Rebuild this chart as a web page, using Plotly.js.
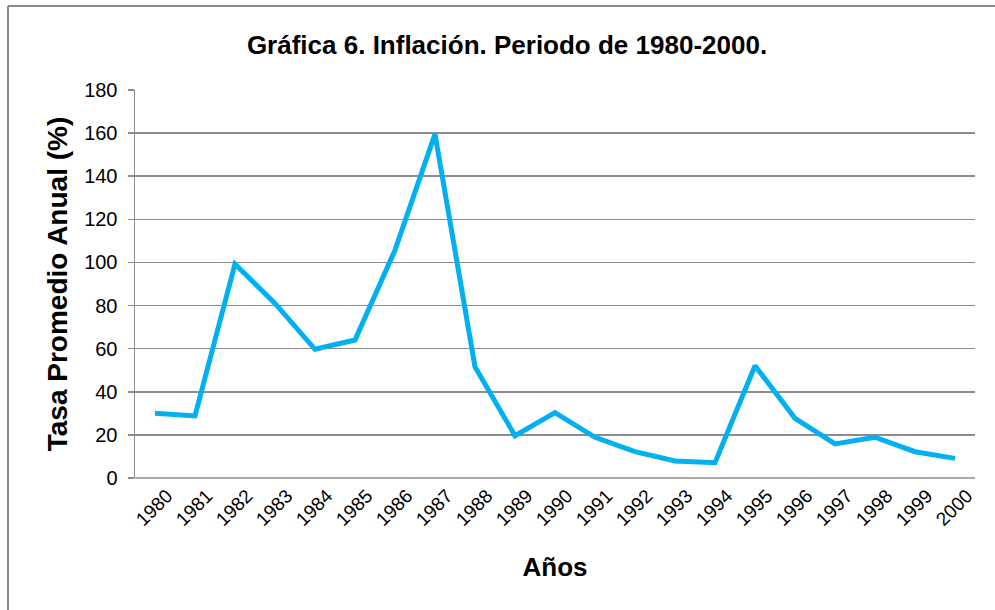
<!DOCTYPE html>
<html>
<head>
<meta charset="utf-8">
<script src="https://cdn.plot.ly/plotly-3.0.1.min.js"></script>
<style>
html,body{margin:0;padding:0;background:#fff;}
#chart{width:995px;height:610px;}
</style>
</head>
<body>
<div id="chart"></div>
<script>
const years = ["1980","1981","1982","1983","1984","1985","1986","1987","1988","1989","1990","1991","1992","1993","1994","1995","1996","1997","1998","1999","2000"];
const inflation = [30.0, 28.8, 99.3, 81.0, 59.7, 64.0, 105.7, 159.5, 51.6, 19.6, 30.3, 18.9, 12.2, 7.9, 7.1, 52.1, 27.7, 15.8, 18.9, 12.2, 9.1];
const yTicks = [0,20,40,60,80,100,120,140,160,180];

const L = 135, R = 20, T = 90, B = 132;
const W = 995, H = 610;
const pw = W - L - R, ph = H - T - B;
function px2x(p){ return (p - L) / pw; }
function py2y(p){ return (H - B - p) / ph; }

const trace = {
  x: years,
  y: inflation,
  type: 'scatter',
  mode: 'lines',
  line: {color: '#00B0F0', width: 5},
  hoverinfo: 'skip'
};

const FONT = 'Liberation Sans, Arial, sans-serif';

const layout = {
  width: W, height: H,
  margin: {l: L, r: R, t: T, b: B},
  paper_bgcolor: '#fff',
  plot_bgcolor: '#fff',
  showlegend: false,
  font: {family: FONT, color: '#000'},
  title: {
    text: '<b>Gráfica 6. Inflación. Periodo de 1980-2000.</b>',
    font: {size: 26, family: FONT, color: '#000'},
    x: 507/W, xanchor: 'center', y: 1 - 45/H, yanchor: 'middle', xref: 'container', yref: 'container'
  },
  xaxis: {
    type: 'category',
    tickangle: -45,
    tickfont: {size: 19},
    ticklabelshift: 12,
    ticklabelstandoff: 2,
    showgrid: false,
    showline: false,
    ticks: '',
    zeroline: false,
    range: [-0.5, years.length - 0.5],
    title: {text: '<b>Años</b>', font: {size: 26}, standoff: 28}
  },
  yaxis: {
    range: [0, 180],
    tickvals: yTicks,
    ticktext: yTicks.map(String),
    tickfont: {size: 20},
    ticklabelstandoff: 6,
    showgrid: true,
    gridcolor: '#8c8c8c',
    gridwidth: 1.5,
    zeroline: false,
    showline: true,
    linecolor: '#8c8c8c',
    linewidth: 1.5,
    ticks: 'outside',
    ticklen: 6,
    tickcolor: '#8c8c8c',
    tickwidth: 1.5,
    title: {text: '<b>Tasa Promedio Anual (%)</b>', font: {size: 28}, standoff: 8}
  },
  shapes: [
    {type: 'line', xref: 'paper', yref: 'paper',
     x0: px2x(8), x1: px2x(996), y0: py2y(6), y1: py2y(6),
     line: {color: '#888888', width: 2}},
    {type: 'line', xref: 'paper', yref: 'paper',
     x0: px2x(8), x1: px2x(8), y0: py2y(6), y1: py2y(612),
     line: {color: '#888888', width: 2}},
    {type: 'line', xref: 'paper', yref: 'paper',
     x0: 0, x1: 1, y0: 0, y1: 0,
     line: {color: '#8c8c8c', width: 1.5}}
  ]
};

Plotly.newPlot('chart', [trace], layout, {displayModeBar: false, staticPlot: true});
</script>
</body>
</html>
